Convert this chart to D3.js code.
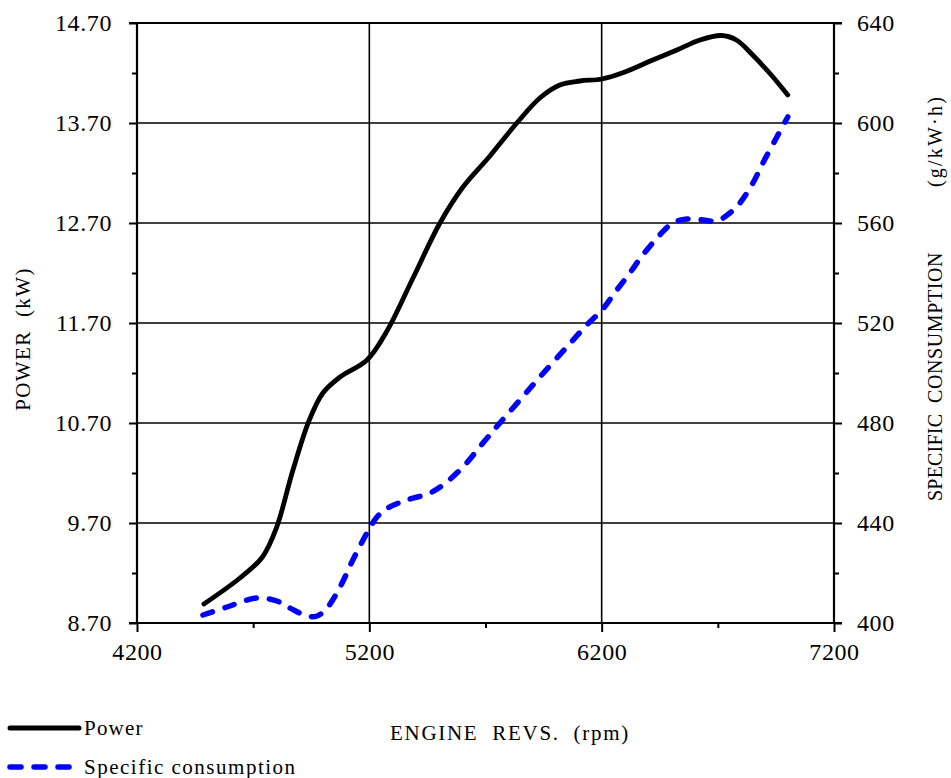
<!DOCTYPE html>
<html>
<head>
<meta charset="utf-8">
<script src="https://cdn.jsdelivr.net/npm/d3@7"></script>
<style>
  html, body { margin: 0; padding: 0; background: #fff; }
  svg { display: block; font-family: "Liberation Serif", "Times New Roman", serif; }
</style>
</head>
<body>
<svg id="chart" width="951" height="778"></svg>
<script>
// Engine speed (rpm) and measured power (kW)
const powerRpm = [4488, 4643, 4740, 4800, 4870, 4940, 5000, 5074, 5190, 5276, 5388, 5504, 5603, 5719, 5835, 5934, 6020, 6106, 6201, 6300, 6420, 6524, 6623, 6715, 6780, 6850, 6930, 7001];
const powerKw  = [8.89, 9.15, 9.36, 9.65, 10.22, 10.72, 11.00, 11.16, 11.33, 11.62, 12.15, 12.70, 13.06, 13.37, 13.70, 13.95, 14.08, 14.12, 14.14, 14.21, 14.33, 14.43, 14.53, 14.575, 14.53, 14.38, 14.18, 13.98];

// Engine speed (rpm) and specific fuel consumption (g/kW·h)
const consRpm = [4484, 4587, 4716, 4802, 4858, 4932, 4975, 5018, 5074, 5129, 5190, 5233, 5280, 5362, 5461, 5517, 5603, 5689, 5762, 5848, 5934, 6050, 6136, 6201, 6265, 6321, 6377, 6450, 6506, 6567, 6636, 6696, 6752, 6795, 6851, 6894, 6954, 7001];
const consVal = [403.2, 406.4, 410.0, 408.8, 406.0, 402.8, 402.8, 406.0, 414.4, 425.2, 436.0, 442.4, 446.0, 449.2, 452.0, 455.2, 462.4, 472.0, 480.0, 489.2, 498.4, 510.4, 519.2, 525.2, 533.2, 540.0, 547.2, 555.2, 560.0, 561.6, 561.2, 560.8, 564.0, 568.0, 576.0, 584.0, 594.4, 602.4];

// Axis ticks
const xMajorTicks = [4200, 5200, 6200, 7200];
const xMinorTicks = [4700, 5700, 6700];
const xGridTicks  = [5200, 6200];
const yLeftTicks  = [8.7, 9.7, 10.7, 11.7, 12.7, 13.7, 14.7];
const yLeftMinor  = [9.2, 10.2, 11.2, 12.2, 13.2, 14.2];
const yRightTicks = [400, 440, 480, 520, 560, 600, 640];
const yRightMinor = [420, 460, 500, 540, 580, 620];

const svg = d3.select("#chart");
const m = { left: 137, right: 834, top: 23, bottom: 623 };

const x  = d3.scaleLinear().domain([4200, 7200]).range([m.left, m.right]);
const yL = d3.scaleLinear().domain([8.7, 14.7]).range([m.bottom, m.top]);
const yR = d3.scaleLinear().domain([400, 640]).range([m.bottom, m.top]);

const fontSize = 24;

// Grid lines
const grid = svg.append("g").attr("stroke", "#000").attr("stroke-width", 1.6);
grid.selectAll("line.h").data(yLeftTicks.slice(1)).join("line")
  .attr("x1", m.left).attr("x2", m.right)
  .attr("y1", d => yL(d)).attr("y2", d => yL(d));
grid.selectAll("line.v").data(xGridTicks).join("line")
  .attr("x1", d => x(d)).attr("x2", d => x(d))
  .attr("y1", m.top).attr("y2", m.bottom);

// Axes
function styleAxis(g) {
  g.select(".domain").remove();
  g.selectAll(".tick line").attr("stroke", "#000").attr("stroke-width", 2);
  g.selectAll(".tick text").attr("fill", "#000")
    .style("font-size", fontSize + "px")
    .style("font-family", "'Liberation Serif', 'Times New Roman', serif")
    .style("letter-spacing", "0.6px");
}

svg.append("g").attr("transform", `translate(0,${m.bottom})`)
  .call(d3.axisBottom(x).tickValues(xMajorTicks).tickSize(9).tickPadding(11).tickFormat(d3.format("d")))
  .call(styleAxis);
svg.append("g").attr("transform", `translate(0,${m.bottom})`)
  .call(d3.axisBottom(x).tickValues(xMinorTicks).tickSize(5).tickFormat(""))
  .call(styleAxis);

svg.append("g").attr("transform", `translate(${m.left},0)`)
  .call(d3.axisLeft(yL).tickValues(yLeftTicks).tickSize(8).tickPadding(17).tickFormat(d3.format(".2f")))
  .call(styleAxis);
svg.append("g").attr("transform", `translate(${m.left},0)`)
  .call(d3.axisLeft(yL).tickValues(yLeftMinor).tickSize(5).tickFormat(""))
  .call(styleAxis);

svg.append("g").attr("transform", `translate(${m.right},0)`)
  .call(d3.axisRight(yR).tickValues(yRightTicks).tickSize(8).tickPadding(15).tickFormat(d3.format("d")))
  .call(styleAxis);
svg.append("g").attr("transform", `translate(${m.right},0)`)
  .call(d3.axisRight(yR).tickValues(yRightMinor).tickSize(5).tickFormat(""))
  .call(styleAxis);

// Axis lines (frame)
const frame = svg.append("g").attr("stroke", "#000").attr("stroke-width", 2.2);
frame.append("line").attr("x1", m.left).attr("x2", m.left).attr("y1", m.top - 1).attr("y2", m.bottom + 1);
frame.append("line").attr("x1", m.right).attr("x2", m.right).attr("y1", m.top - 1).attr("y2", m.bottom + 1);
frame.append("line").attr("x1", m.left - 8).attr("x2", m.right + 8).attr("y1", m.bottom).attr("y2", m.bottom);
frame.append("line").attr("x1", m.left - 8).attr("x2", m.right + 8).attr("y1", m.top).attr("y2", m.top);

// Curves
const powerLine = d3.line()
  .x((d, i) => x(powerRpm[i])).y(d => yL(d))
  .curve(d3.curveCatmullRom.alpha(0.5));
const consLine = d3.line()
  .x((d, i) => x(consRpm[i])).y(d => yR(d))
  .curve(d3.curveCatmullRom.alpha(0.5));

svg.append("path").datum(consVal).attr("d", consLine)
  .attr("fill", "none").attr("stroke", "#0000ff").attr("stroke-width", 5.5)
  .attr("stroke-linecap", "round").attr("stroke-dasharray", "10,13");

svg.append("path").datum(powerKw).attr("d", powerLine)
  .attr("fill", "none").attr("stroke", "#000").attr("stroke-width", 4.8)
  .attr("stroke-linecap", "round").attr("stroke-linejoin", "round");

// Axis titles
const titleSize = 21;
svg.append("text")
  .attr("transform", `translate(30,339) rotate(-90)`)
  .attr("text-anchor", "middle")
  .style("font-size", titleSize + "px").style("letter-spacing", "1.4px")
  .style("white-space", "pre")
  .text("POWER  (kW)");

const rightTitle = [
  { t: "SPECIFIC", y: 501, ls: 0.2 },
  { t: "CONSUMPTION", y: 403, ls: 0.6 },
  { t: "(g/kW·h)", y: 187, ls: 2.2 }
];
svg.selectAll("text.rt").data(rightTitle).join("text")
  .attr("class", "rt")
  .attr("transform", d => `translate(942,${d.y}) rotate(-90)`)
  .attr("text-anchor", "start")
  .style("font-size", "20px").style("letter-spacing", d => d.ls + "px")
  .text(d => d.t);

svg.append("text")
  .attr("x", 510).attr("y", 740)
  .attr("text-anchor", "middle")
  .style("font-size", titleSize + "px").style("letter-spacing", "1.7px")
  .style("white-space", "pre")
  .text("ENGINE  REVS.  (rpm)");

// Legend
const legend = svg.append("g");
legend.append("line").attr("x1", 10).attr("x2", 79).attr("y1", 728).attr("y2", 728)
  .attr("stroke", "#000").attr("stroke-width", 5).attr("stroke-linecap", "round");
legend.append("text").attr("x", 84).attr("y", 735)
  .style("font-size", titleSize + "px").style("letter-spacing", "1.2px").text("Power");
legend.append("line").attr("x1", 10).attr("x2", 72).attr("y1", 767).attr("y2", 767)
  .attr("stroke", "#0000ff").attr("stroke-width", 5.5).attr("stroke-linecap", "round")
  .attr("stroke-dasharray", "11,13");
legend.append("text").attr("x", 84).attr("y", 774)
  .style("font-size", titleSize + "px").style("letter-spacing", "1.5px").text("Specific consumption");
</script>
</body>
</html>
